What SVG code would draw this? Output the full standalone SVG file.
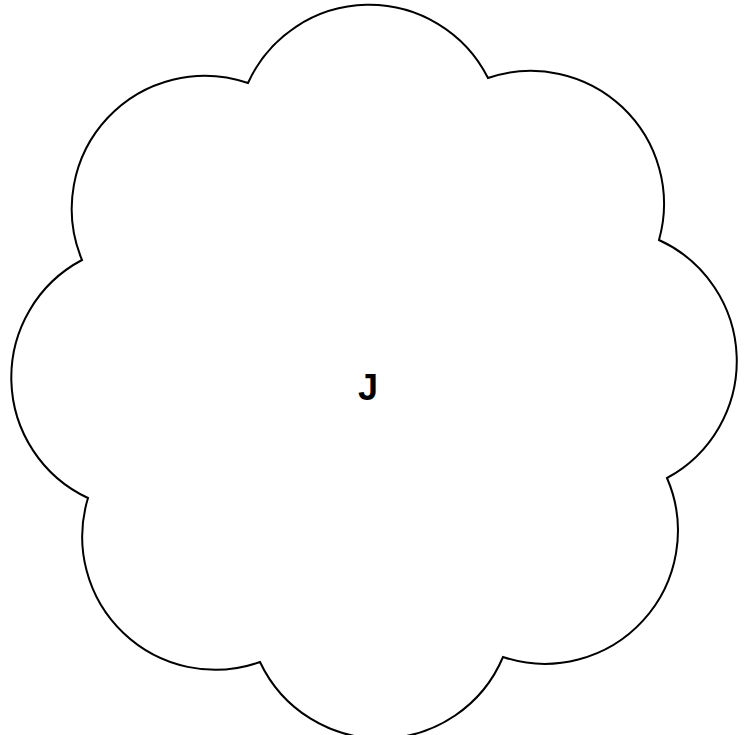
<svg xmlns="http://www.w3.org/2000/svg" width="747" height="735" viewBox="0 0 747 735">
<style>
.shape{fill:#fff;stroke:#000;stroke-width:2;stroke-linejoin:miter}
.lbl{font-family:"Liberation Sans",Arial,sans-serif;font-size:36px;font-weight:bold;fill:#000;text-anchor:middle}
</style>
<rect width="747" height="735" fill="#fff"/>
<g id="node-J">
<path class="shape" d="M248,83 A133,133 0 0 1 488,78 A133,133 0 0 1 659,240 A133,133 0 0 1 667,478 A133,133 0 0 1 503,657 A133,133 0 0 1 260,662 A133,133 0 0 1 88,498 A133,133 0 0 1 82,260 A133,133 0 0 1 248,83 Z"/>
<text class="lbl" x="368" y="400">J</text>
</g>
<g id="connectors"></g>
</svg>
